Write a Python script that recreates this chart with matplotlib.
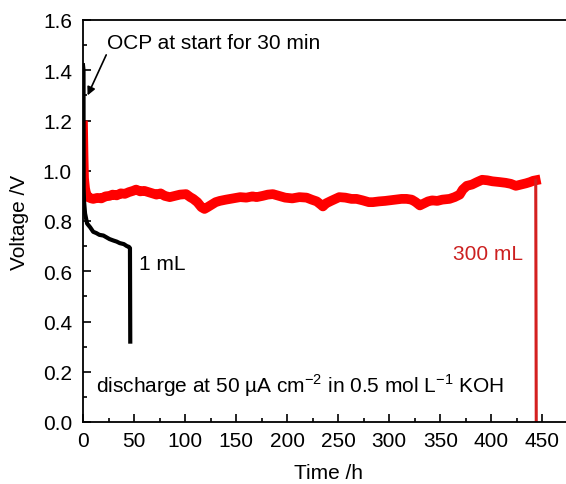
import matplotlib
matplotlib.use("Agg")
import matplotlib.pyplot as plt
from matplotlib.ticker import MultipleLocator

plt.rcParams['font.family'] = ['Liberation Sans', 'DejaVu Sans']
plt.rcParams['mathtext.fontset'] = 'custom'
plt.rcParams['mathtext.rm'] = 'Liberation Sans'
plt.rcParams['axes.unicode_minus'] = False

FS = 15

# 1 mL cell (black)
t_1ml = [0, 0.5, 0.6, 1, 2, 4, 7, 10, 13, 16, 20, 23, 26, 30, 33, 36, 40, 43, 45, 46, 46.3]
v_1ml = [1.42, 1.40, 0.93, 0.88, 0.83, 0.79, 0.775, 0.757, 0.752, 0.745, 0.742, 0.735,
         0.728, 0.722, 0.718, 0.712, 0.708, 0.70, 0.697, 0.692, 0.32]

# 300 mL cell (red)
t_300ml = [0, 0.5, 1, 2, 3, 5, 8, 10, 14, 18, 22, 26, 29, 33, 37, 41, 45, 49, 52, 56,
           60, 64, 68, 72, 76, 80, 85, 90, 95, 101, 105, 108, 112, 116, 119, 122, 126,
           130, 134, 140, 147, 154, 160, 166, 170, 176, 181, 186, 192, 198, 205, 212,
           219, 224, 229, 233, 235, 238, 243, 251, 257, 263, 268, 274, 280, 284, 290,
           296, 300, 306, 312, 317, 322, 326, 330, 334, 338, 342, 347, 352, 359, 364,
           369, 372, 376, 381, 386, 391, 396, 401, 408, 414, 419, 424, 429, 434, 438,
           441, 443.5, 444]
v_300ml = [1.18, 1.06, 0.97, 0.93, 0.91, 0.895, 0.89, 0.888, 0.892, 0.89, 0.898, 0.90,
           0.905, 0.902, 0.91, 0.908, 0.915, 0.92, 0.925, 0.918, 0.92, 0.915, 0.91,
           0.905, 0.91, 0.90, 0.895, 0.90, 0.905, 0.907, 0.895, 0.888, 0.875, 0.855,
           0.848, 0.855, 0.865, 0.875, 0.88, 0.885, 0.89, 0.895, 0.893, 0.898, 0.895,
           0.90, 0.905, 0.907, 0.90, 0.893, 0.89, 0.895, 0.893, 0.885, 0.878, 0.865,
           0.858, 0.87, 0.88, 0.895, 0.893, 0.888, 0.888, 0.882, 0.875, 0.875, 0.878,
           0.88, 0.882, 0.885, 0.888, 0.888, 0.885, 0.875, 0.862, 0.87, 0.878, 0.882,
           0.88, 0.885, 0.888, 0.895, 0.905, 0.925, 0.94, 0.945, 0.955, 0.964, 0.962,
           0.958, 0.955, 0.952, 0.948, 0.94, 0.945, 0.95, 0.955, 0.96, 0.962, 0.0]

fig = plt.figure(figsize=(5.66, 4.85), dpi=100)
ax = fig.add_axes([83 / 566, 62 / 485, 490 / 566, 402 / 485])

ax.plot(t_300ml[:-1], v_300ml[:-1], color='#ff0000', lw=7, solid_joinstyle='round')
ax.plot(t_300ml[-2:], v_300ml[-2:], color='#d42020', lw=2.2)
ax.plot(t_1ml, v_1ml, color='black', lw=3)

ax.set_xlim(0, 480)
ax.set_ylim(0, 1.6)
ax.xaxis.set_major_locator(MultipleLocator(50))
ax.xaxis.set_minor_locator(MultipleLocator(25))
ax.yaxis.set_major_locator(MultipleLocator(0.2))
ax.yaxis.set_minor_locator(MultipleLocator(0.1))
ax.yaxis.set_major_formatter(plt.FormatStrFormatter('%.1f'))
ax.tick_params(which='both', direction='in', labelsize=FS, width=1.2, top=False, right=False)
ax.tick_params(which='major', length=6)
ax.tick_params(which='minor', length=3)
ax.tick_params(axis='y', pad=8)
ax.tick_params(axis='x', pad=6.5)
ax.spines['right'].set_visible(False)
for s in ['left', 'bottom', 'top']:
    ax.spines[s].set_linewidth(1.3)

ax.set_xlabel('Time /h', fontsize=FS, labelpad=9)
ax.set_ylabel('Voltage /V', fontsize=FS, labelpad=10)

ax.annotate('OCP at start for 30 min', xy=(4.5, 1.30), xytext=(24, 1.51),
            fontsize=FS, va='center', ha='left',
            arrowprops=dict(arrowstyle='-|>', color='black', lw=1.2,
                            shrinkA=0, shrinkB=0, mutation_scale=12,
                            relpos=(0, 0)))
ax.text(55, 0.63, '1 mL', fontsize=FS, va='center', ha='left')
ax.text(362, 0.67, '300 mL', fontsize=FS, va='center', ha='left', color='#cc2020')
ax.text(13, 0.15, 'discharge at 50 µA cm$^{-2}$ in 0.5 mol L$^{-1}$ KOH',
        fontsize=FS, va='center', ha='left')

fig.savefig('out.png', dpi=100)
